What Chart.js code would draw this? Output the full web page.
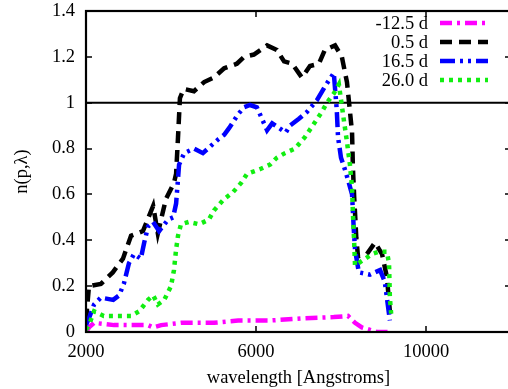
<!DOCTYPE html>
<html>
<head>
<meta charset="utf-8">
<script src="https://cdn.jsdelivr.net/npm/chart.js@4.4.1/dist/chart.umd.min.js"></script>
<style>
  html, body { margin: 0; padding: 0; background: #fff; }
  #wrap { width: 508px; height: 389px; overflow: hidden; }
</style>
</head>
<body>
<div id="wrap"><canvas id="chart" width="511" height="389"></canvas></div>
<script>
// tick labels
const xTickValues = [2000, 6000, 10000];
const yTickValues = [0, 0.2, 0.4, 0.6, 0.8, 1, 1.2, 1.4];
const refLevel = 1;

// -12.5 d
const wlM125 = [2000, 2070, 2190, 2660, 3060, 3460, 3580, 3770, 4235, 5010, 5580, 6330, 7130, 7830, 8165, 8330, 8490, 8850, 9100];
const nM125 = [0.0, 0.02, 0.04, 0.03, 0.03, 0.03, 0.02, 0.03, 0.04, 0.04, 0.05, 0.05, 0.06, 0.065, 0.07, 0.04, 0.02, 0.0, 0.0];

// 0.5 d
const wl05 = [2000, 2070, 2350, 2630, 2870, 3060, 3340, 3580, 3690, 3880, 4070, 4120, 4165, 4210, 4300, 4540, 4780, 5010, 5250, 5550, 5720, 5950, 6260, 6490, 6660, 6850, 7080, 7270, 7480, 7620, 7860, 8020, 8140, 8190, 8260, 8280, 8310, 8330, 8360, 8400, 8610, 8800, 8965, 9080, 9150, 9180];
const n05 = [0.05, 0.20, 0.21, 0.26, 0.32, 0.42, 0.44, 0.55, 0.43, 0.58, 0.65, 0.69, 0.85, 1.02, 1.06, 1.05, 1.09, 1.11, 1.15, 1.17, 1.20, 1.21, 1.25, 1.23, 1.18, 1.17, 1.11, 1.16, 1.17, 1.23, 1.25, 1.20, 1.09, 1.00, 0.87, 0.72, 0.59, 0.52, 0.41, 0.33, 0.34, 0.39, 0.34, 0.24, 0.09, 0.05];

// 16.5 d
const wl165 = [2000, 2070, 2190, 2350, 2640, 2780, 2890, 3010, 3130, 3290, 3370, 3460, 3580, 3720, 3930, 4050, 4120, 4170, 4190, 4310, 4540, 4750, 5110, 5250, 5370, 5580, 5720, 5860, 6020, 6140, 6260, 6380, 6540, 6700, 6800, 7010, 7200, 7430, 7620, 7830, 7900, 7930, 8000, 8090, 8170, 8260, 8300, 8330, 8420, 8680, 8920, 9030, 9150];
const n165 = [0.03, 0.06, 0.12, 0.15, 0.14, 0.16, 0.21, 0.30, 0.34, 0.32, 0.39, 0.46, 0.48, 0.44, 0.49, 0.50, 0.56, 0.68, 0.73, 0.78, 0.80, 0.78, 0.84, 0.86, 0.89, 0.95, 0.98, 0.99, 0.98, 0.93, 0.88, 0.91, 0.89, 0.87, 0.90, 0.93, 0.96, 1.01, 1.07, 1.13, 0.97, 0.85, 0.76, 0.71, 0.66, 0.60, 0.45, 0.36, 0.26, 0.25, 0.27, 0.22, 0.05];

// 26.0 d
const wl260 = [2000, 2070, 2190, 2420, 2750, 3060, 3250, 3460, 3580, 3690, 3840, 4000, 4070, 4120, 4165, 4235, 4420, 4660, 4890, 5010, 5250, 5460, 5650, 5790, 6090, 6330, 6490, 6680, 6920, 7150, 7370, 7550, 7670, 7830, 7950, 8070, 8140, 8210, 8260, 8280, 8310, 8330, 8490, 8730, 8890, 9080, 9130, 9150, 9180];
const n260 = [0.01, 0.03, 0.09, 0.07, 0.07, 0.07, 0.09, 0.14, 0.16, 0.12, 0.14, 0.20, 0.27, 0.36, 0.42, 0.47, 0.48, 0.47, 0.49, 0.53, 0.58, 0.61, 0.65, 0.69, 0.71, 0.73, 0.76, 0.78, 0.80, 0.85, 0.91, 0.96, 1.00, 1.04, 1.08, 0.92, 0.83, 0.73, 0.63, 0.52, 0.39, 0.29, 0.31, 0.34, 0.35, 0.35, 0.30, 0.15, 0.08];

const FONT = { family: '"Liberation Serif", "Times New Roman", serif', size: 18.5 };

function points(xs, ys) {
    return xs.map((x, i) => ({ x: x, y: ys[i] }));
}

function series(label, xs, ys, color, dash, order) {
    return {
        label: label,
        data: points(xs, ys),
        borderColor: color,
        backgroundColor: color,
        borderWidth: 4.5,
        borderDash: dash,
        borderCapStyle: 'butt',
        borderJoinStyle: 'miter',
        pointRadius: 0,
        tension: 0,
        fill: false,
        order: order
    };
}

// inward ticks and frame, gnuplot style
const framePlugin = {
    id: 'frame',
    afterDatasetsDraw(chart) {
        const { ctx, chartArea: a, scales: { x, y } } = chart;
        const len = 6;
        ctx.save();
        ctx.strokeStyle = '#000';
        ctx.lineWidth = 1.5;
        ctx.beginPath();
        xTickValues.forEach(v => {
            const px = Math.round(x.getPixelForValue(v));
            ctx.moveTo(px, a.bottom); ctx.lineTo(px, a.bottom - len);
            ctx.moveTo(px, a.top); ctx.lineTo(px, a.top + len);
        });
        yTickValues.forEach(v => {
            const py = Math.round(y.getPixelForValue(v));
            ctx.moveTo(a.left, py); ctx.lineTo(a.left + len, py);
            ctx.moveTo(a.right, py); ctx.lineTo(a.right - len, py);
        });
        ctx.stroke();
        ctx.lineWidth = 2.2;
        ctx.strokeRect(a.left, a.top, a.right - a.left, a.bottom - a.top);
        ctx.restore();
    }
};

// legend: text right aligned, line sample to the right
const legendPlugin = {
    id: 'lineLegend',
    afterDraw(chart) {
        const ctx = chart.ctx;
        const sets = chart.data.datasets.filter(d => d.label);
        ctx.save();
        ctx.font = FONT.size + 'px ' + FONT.family;
        ctx.textAlign = 'right';
        ctx.textBaseline = 'middle';
        sets.forEach((d, i) => {
            const yy = 23 + i * 19;
            ctx.fillStyle = '#000';
            ctx.fillText(d.label, 428, yy + 1);
            ctx.strokeStyle = d.borderColor;
            ctx.lineWidth = d.borderWidth;
            ctx.lineCap = 'butt';
            ctx.setLineDash(d.borderDash);
            ctx.beginPath();
            ctx.moveTo(440, yy);
            ctx.lineTo(488, yy);
            ctx.stroke();
        });
        ctx.restore();
    }
};

new Chart(document.getElementById('chart'), {
    type: 'line',
    data: {
        datasets: [
            series('-12.5 d', wlM125, nM125, '#ff00ff', [12, 5, 3, 5], 4),
            series('0.5 d', wl05, n05, '#000000', [12, 7], 3),
            series('16.5 d', wl165, n165, '#0000ff', [15, 5, 3, 5, 3, 5], 2),
            series('26.0 d', wl260, n260, '#11ee11', [4, 5], 1),
            {
                label: '',
                data: [{ x: 2000, y: refLevel }, { x: 12000, y: refLevel }],
                borderColor: '#000',
                borderWidth: 2,
                pointRadius: 0,
                order: 5
            }
        ]
    },
    options: {
        responsive: false,
        animation: false,
        layout: { padding: { top: 11, left: 0, right: 0, bottom: 0 } },
        plugins: { legend: { display: false }, tooltip: { enabled: false } },
        scales: {
            x: {
                type: 'linear',
                min: 2000,
                max: 12000,
                afterBuildTicks: s => { s.ticks = xTickValues.map(v => ({ value: v })); },
                afterFit: s => { s.height = 57; s.paddingLeft = 0; s.paddingRight = 0; },
                grid: { display: false, drawTicks: false },
                border: { display: false },
                ticks: { color: '#000', font: FONT, padding: 9, maxRotation: 0, autoSkip: false, callback: v => String(v) },
                title: { display: true, text: 'wavelength [Angstroms]', color: '#000', font: FONT, padding: { top: 0, bottom: 0 } }
            },
            y: {
                min: 0,
                max: 1.4,
                afterBuildTicks: s => { s.ticks = yTickValues.map(v => ({ value: v })); },
                afterFit: s => { s.width = 86; s.paddingTop = 0; s.paddingBottom = 0; },
                grid: { display: false, drawTicks: false },
                border: { display: false },
                ticks: { color: '#000', font: FONT, padding: 11, autoSkip: false, callback: v => String(v) },
                title: { display: true, text: 'n(p,λ)', color: '#000', font: FONT, padding: { top: 11, bottom: 0 } }
            }
        }
    },
    plugins: [framePlugin, legendPlugin]
});
</script>
</body>
</html>
